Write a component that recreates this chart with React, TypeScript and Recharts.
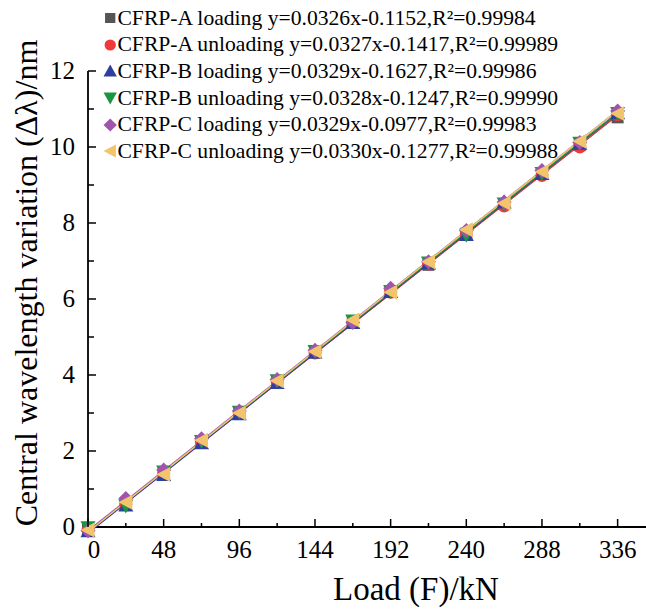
import React from 'react';
import {
  ComposedChart,
  Scatter,
  Line,
  XAxis,
  YAxis,
  ReferenceLine
} from 'recharts';

// load steps (kN)
const loads = [0, 24, 48, 72, 96, 120, 144, 168, 192, 216, 240, 264, 288, 312, 336];

// measured wavelength shifts (nm)
const aLoading = [-0.05, 0.62, 1.42, 2.22, 3.0, 3.8, 4.6, 5.4, 6.2, 6.9, 7.72, 8.5, 9.3, 10.05, 10.78];
const aUnloading = [-0.08, 0.6, 1.4, 2.25, 3.0, 3.82, 4.58, 5.38, 6.18, 6.92, 7.72, 8.45, 9.25, 10.0, 10.85];
const bLoading = [-0.1, 0.58, 1.38, 2.22, 2.98, 3.8, 4.6, 5.38, 6.2, 6.95, 7.7, 8.55, 9.3, 10.1, 10.9];
const bUnloading = [-0.02, 0.55, 1.45, 2.25, 3.02, 3.85, 4.62, 5.42, 6.2, 6.95, 7.68, 8.5, 9.3, 10.1, 10.88];
const cLoading = [-0.1, 0.75, 1.5, 2.32, 3.05, 3.88, 4.65, 5.38, 6.28, 6.98, 7.8, 8.55, 9.38, 10.12, 10.95];
const cUnloading = [-0.08, 0.65, 1.38, 2.28, 3.0, 3.85, 4.62, 5.45, 6.18, 6.98, 7.82, 8.52, 9.35, 10.15, 10.88];

// fitted line ends at 0 and 336 kN
const fitEnds = [0, 336];
const aLoadingFit = [-0.12, 10.84];
const aUnloadingFit = [-0.14, 10.85];
const bLoadingFit = [-0.16, 10.89];
const bUnloadingFit = [-0.12, 10.90];
const cLoadingFit = [-0.10, 10.96];
const cUnloadingFit = [-0.13, 10.96];

const xTicks = [0, 24, 48, 72, 96, 120, 144, 168, 192, 216, 240, 264, 288, 312, 336];
const yTicks = [0, 1, 2, 3, 4, 5, 6, 7, 8, 9, 10, 11, 12];

const labels = [
  'CFRP-A loading y=0.0326x-0.1152,R\u00b2=0.99984',
  'CFRP-A unloading y=0.0327x-0.1417,R\u00b2=0.99989',
  'CFRP-B loading y=0.0329x-0.1627,R\u00b2=0.99986',
  'CFRP-B unloading y=0.0328x-0.1247,R\u00b2=0.99990',
  'CFRP-C loading y=0.0329x-0.0977,R\u00b2=0.99983',
  'CFRP-C unloading y=0.0330x-0.1277,R\u00b2=0.99988'
];

type Shape = 'square' | 'circle' | 'up' | 'down' | 'diamond' | 'left';

const W = 646;
const H = 609;
const FONT = '"Liberation Serif", "Times New Roman", serif';
const PLOT_LEFT = 88;
const PLOT_TOP = 71;
const PX_PER_Y = 38;
const Y_MIN = -0.3;
const Y_MAX = 12;
const X_MAX = 354;
const PLOT_H = (Y_MAX - Y_MIN) * PX_PER_Y;
const ZERO_OFFSET = -Y_MIN * PX_PER_Y;

const toPoints = (ys: number[], xs: number[] = loads) => xs.map((x, i) => ({ x, y: ys[i] }));

const series = [
  { name: labels[0], color: '#555555', shape: 'square' as Shape, pts: aLoading, fit: aLoadingFit },
  { name: labels[1], color: '#ee3a3a', shape: 'circle' as Shape, pts: aUnloading, fit: aUnloadingFit },
  { name: labels[2], color: '#2f3f9f', shape: 'up' as Shape, pts: bLoading, fit: bLoadingFit },
  { name: labels[3], color: '#1b9640', shape: 'down' as Shape, pts: bUnloading, fit: bUnloadingFit },
  { name: labels[4], color: '#a055ad', shape: 'diamond' as Shape, pts: cLoading, fit: cLoadingFit },
  { name: labels[5], color: '#f2c46c', shape: 'left' as Shape, pts: cUnloading, fit: cUnloadingFit }
];

const Marker = ({ cx, cy, shape, color, s = 6.5 }: { cx: number; cy: number; shape: Shape; color: string; s?: number }) => {
  switch (shape) {
    case 'square':
      return <rect x={cx - s + 0.5} y={cy - s + 0.5} width={2 * s - 1} height={2 * s - 1} fill={color} />;
    case 'circle':
      return <circle cx={cx} cy={cy} r={s} fill={color} />;
    case 'up':
      return <polygon points={`${cx},${cy - s - 1} ${cx + s + 1},${cy + s} ${cx - s - 1},${cy + s}`} fill={color} />;
    case 'down':
      return <polygon points={`${cx},${cy + s + 1} ${cx + s + 1},${cy - s} ${cx - s - 1},${cy - s}`} fill={color} />;
    case 'diamond':
      return <polygon points={`${cx},${cy - s - 1} ${cx + s + 1},${cy} ${cx},${cy + s + 1} ${cx - s - 1},${cy}`} fill={color} />;
    default:
      return <polygon points={`${cx - s - 1},${cy} ${cx + s},${cy - s - 1} ${cx + s},${cy + s + 1}`} fill={color} />;
  }
};

const XTick = (props: any) => {
  const { x, y, payload } = props;
  const v = payload.value;
  const major = v % 48 === 0;
  const y0 = y - ZERO_OFFSET;
  return (
    <g>
      <line x1={x} x2={x} y1={y0} y2={y0 - (major ? 8 : 4)} stroke="#000" strokeWidth={1.5} />
      {major && (
        <text x={x + (v === 0 ? 6 : 0)} y={y0 + 31} textAnchor="middle" fontSize={25} fontFamily={FONT} fill="#000">
          {v}
        </text>
      )}
    </g>
  );
};

const YTick = (props: any) => {
  const { x, y, payload } = props;
  const v = payload.value;
  const major = v % 2 === 0;
  return (
    <g>
      {v > 0 && <line x1={x} x2={x + (major ? 8 : 6)} y1={y} y2={y} stroke="#000" strokeWidth={1.5} />}
      {major && (
        <text x={x - 13} y={y + 8} textAnchor="end" fontSize={25} fontFamily={FONT} fill="#000">
          {v}
        </text>
      )}
    </g>
  );
};

const LegendBox = () => (
  <div
    style={{
      position: 'absolute',
      left: 103,
      top: 5,
      fontFamily: FONT,
      fontSize: 21,
      color: '#000',
      transform: 'scaleX(1.03)',
      transformOrigin: 'left top'
    }}
  >
    {series.map((s) => (
      <div key={s.name} style={{ display: 'flex', alignItems: 'center', height: 26.6, whiteSpace: 'nowrap' }}>
        <svg width={14} height={16} style={{ marginRight: 0 }}>
          <Marker cx={7} cy={8} shape={s.shape} color={s.color} s={5.5} />
        </svg>
        <span>{s.name}</span>
      </div>
    ))}
  </div>
);

export default function App() {
  return (
    <div style={{ position: 'absolute', left: 0, top: 0, width: W, height: H, background: '#fff' }}>
      <ComposedChart
        width={W}
        height={H}
        margin={{ top: PLOT_TOP, right: 0, bottom: 0, left: 8 }}
      >
        <XAxis
          type="number"
          dataKey="x"
          domain={[0, X_MAX]}
          ticks={xTicks}
          interval={0}
          axisLine={false}
          tickLine={false}
          tickSize={0}
          tickMargin={0}
          height={H - PLOT_TOP - PLOT_H}
          tick={<XTick />}
          label={() => (
            <text x={416} y={600} textAnchor="middle" fontSize={33} fontFamily={FONT} fill="#000">
              Load (F)/kN
            </text>
          )}
        />
        <YAxis
          type="number"
          dataKey="y"
          domain={[Y_MIN, Y_MAX]}
          ticks={yTicks}
          interval={0}
          axisLine={false}
          tickLine={false}
          tickSize={0}
          tickMargin={0}
          width={PLOT_LEFT - 8}
          tick={<YTick />}
          label={() => (
            <text
              x={26}
              y={283}
              transform="rotate(-90 26 283)"
              textAnchor="middle"
              dominantBaseline="central"
              fontSize={32}
              fontFamily={FONT}
              fill="#000"
            >
              Central wavelength variation (Δλ)/nm
            </text>
          )}
        />
        <ReferenceLine y={0} stroke="#000" strokeWidth={1.8} ifOverflow="visible" />
        <ReferenceLine
          segment={[{ x: 0, y: 0 }, { x: 0, y: Y_MAX }]}
          stroke="#000"
          strokeWidth={1.8}
          ifOverflow="visible"
        />
        {series.map((s) => (
          <Scatter
            key={'p' + s.name}
            data={toPoints(s.pts)}
            fill={s.color}
            isAnimationActive={false}
            shape={(p: any) => <Marker cx={p.cx} cy={p.cy} shape={s.shape} color={s.color} />}
          />
        ))}
        {series.map((s) => (
          <Line
            key={'l' + s.name}
            data={toPoints(s.fit, fitEnds)}
            dataKey="y"
            stroke={s.color}
            strokeWidth={1.4}
            dot={false}
            activeDot={false}
            isAnimationActive={false}
          />
        ))}
      </ComposedChart>
      <LegendBox />
    </div>
  );
}
